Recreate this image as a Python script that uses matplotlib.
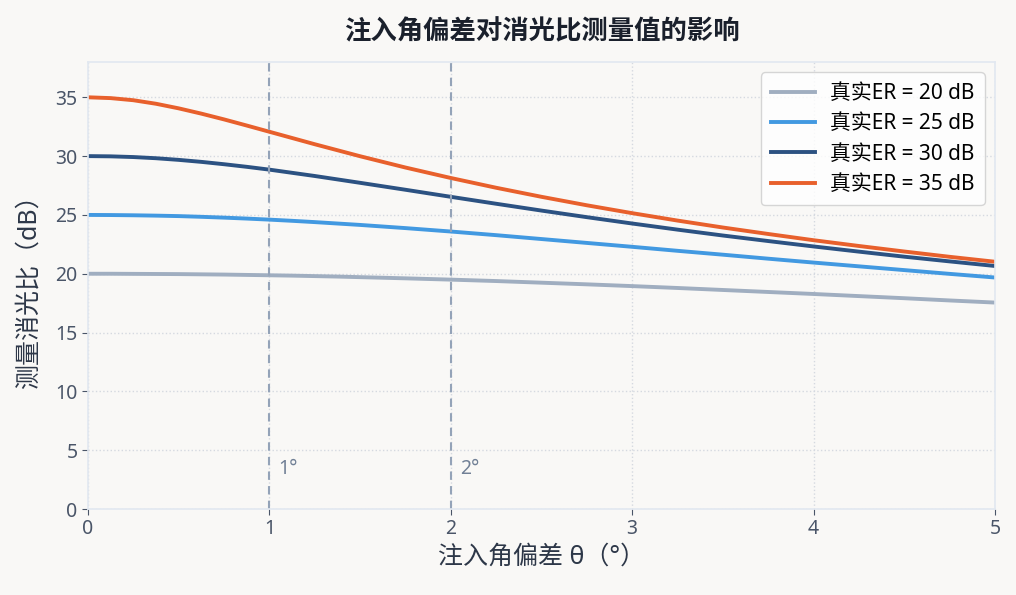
import matplotlib.pyplot as plt

plt.rcParams['font.family'] = ['Noto Sans', 'Noto Sans CJK SC', 'DejaVu Sans']

# 注入角偏差 (°)
theta = [0, 0.125, 0.25, 0.375, 0.5, 0.625, 0.75, 0.875, 1, 1.125, 1.25, 1.375,
         1.5, 1.75, 2, 2.25, 2.5, 2.75, 3, 3.25, 3.5, 3.75, 4, 4.25, 4.5, 4.75, 5]

# 测量消光比 (dB)，按真实ER分组
er20 = [20.00, 20.00, 19.99, 19.98, 19.97, 19.95, 19.93, 19.90, 19.87, 19.84, 19.80, 19.76,
        19.71, 19.61, 19.50, 19.38, 19.24, 19.10, 18.95, 18.79, 18.62, 18.45, 18.28,
        18.10, 17.92, 17.73, 17.55]
er25 = [25.00, 24.99, 24.97, 24.94, 24.90, 24.84, 24.77, 24.69, 24.60, 24.50, 24.39, 24.27,
        24.15, 23.88, 23.59, 23.28, 22.95, 22.62, 22.29, 21.95, 21.62, 21.28, 20.95,
        20.63, 20.31, 19.99, 19.68]
er30 = [30.00, 29.98, 29.92, 29.82, 29.68, 29.51, 29.31, 29.09, 28.85, 28.58, 28.31, 28.02,
        27.73, 27.14, 26.54, 25.95, 25.37, 24.81, 24.27, 23.75, 23.25, 22.78, 22.32,
        21.88, 21.45, 21.05, 20.66]
er35 = [35.00, 34.93, 34.75, 34.45, 34.06, 33.61, 33.12, 32.60, 32.07, 31.54, 31.01, 30.50,
        29.99, 29.03, 28.14, 27.31, 26.54, 25.82, 25.15, 24.52, 23.93, 23.38, 22.85,
        22.36, 21.89, 21.44, 21.02]

labels = ['真实ER = 20 dB', '真实ER = 25 dB', '真实ER = 30 dB', '真实ER = 35 dB']
colors = ['#a0aec0', '#4299e1', '#2c5282', '#e8602c']
marks = [1, 2]

bg = '#f9f8f6'
fig = plt.figure(figsize=(10.16, 5.95), dpi=100, facecolor=bg)
ax = fig.add_axes([0.0866, 0.1445, 0.8927, 0.7513])
ax.set_facecolor(bg)

for ys, lab, c in zip([er20, er25, er30, er35], labels, colors):
    ax.plot(theta, ys, color=c, lw=2.8, label=lab)

for m in marks:
    ax.axvline(m, color='#94a3b8', ls='--', lw=1.5, dashes=(4, 3))
    ax.text(m + 0.05, 3.0, f'{m}°', color='#718096', fontsize=14)

ax.set_xlim(0, 5)
ax.set_ylim(0, 38)
ax.set_xticks([0, 1, 2, 3, 4, 5])
ax.set_yticks([0, 5, 10, 15, 20, 25, 30, 35])
ax.grid(True, ls=':', color='#d5d9e0', lw=1)
for s in ax.spines.values():
    s.set_color('#e2e8f0')
    s.set_linewidth(1.2)
ax.tick_params(colors='#4a5568', labelsize=14, length=4)

ax.set_xlabel('注入角偏差 θ（°）', fontsize=18, color='#2d3748', labelpad=4)
ax.set_ylabel('测量消光比（dB）', fontsize=18, color='#2d3748', labelpad=10)
ax.set_title('注入角偏差对消光比测量值的影响', fontsize=19, fontweight='bold',
             color='#1a202c', pad=16)

leg = ax.legend(loc='upper right', fontsize=15, frameon=True, fancybox=True,
                handlelength=2.1, handletextpad=0.7, borderpad=0.5, labelspacing=0.45)
leg.get_frame().set_edgecolor('#cccccc')
leg.get_frame().set_facecolor('white')

fig.savefig('out.png', dpi=100, facecolor=bg)
